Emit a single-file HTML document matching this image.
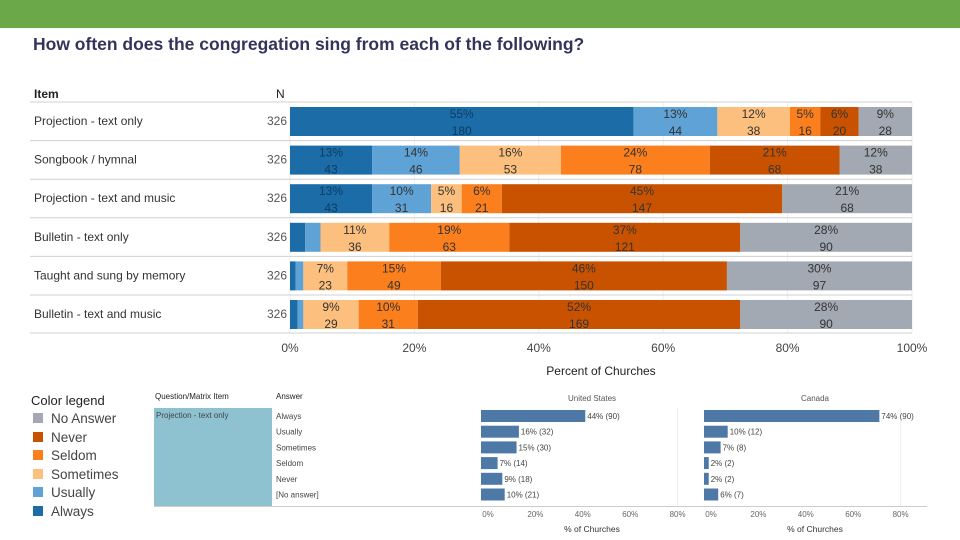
<!DOCTYPE html>
<html><head><meta charset="utf-8"><style>
body{margin:0;width:960px;height:540px;background:#fff;overflow:hidden;font-family:"Liberation Sans",sans-serif;position:relative}
.t{position:absolute;white-space:nowrap}
</style></head><body>
<div style="position:absolute;left:0;top:0;width:960px;height:28px;background:#6aa84a"></div>
<div class="t" style="left:33px;top:34px;font-size:17.5px;font-weight:bold;color:#33345a">How often does the congregation sing from each of the following?</div>
<svg id="main" width="960" height="540" style="position:absolute;left:0;top:0" font-family="Liberation Sans, sans-serif"></svg>
<div class="t" style="left:31px;top:393px;font-size:13px;color:#222">Color legend</div>
<div id="legend"></div>
<div class="t" style="left:155px;top:392px;font-size:8px;color:#222">Question/Matrix Item</div>
<div class="t" style="left:276px;top:392px;font-size:8px;color:#222">Answer</div>
<div style="position:absolute;left:154px;top:408px;width:118px;height:98px;background:#8ec2d1"></div>
<div class="t" style="left:156px;top:411px;font-size:8px;color:#444">Projection - text only</div>
<div style="position:absolute;left:154px;top:506px;width:773px;height:1px;background:#ccc"></div>
<script>
const items=["Projection - text only","Songbook / hymnal","Projection - text and music","Bulletin - text only","Taught and sung by memory","Bulletin - text and music"];
const answers=["Always","Usually","Sometimes","Seldom","Never","No Answer"];
const colors=["#1c6ca8","#5fa2d5","#fdbf7e","#fb7f1c","#c85200","#a2a9b2"];
const always=[180,43,43,8,3,4];
const usually=[44,46,31,8,4,3];
const sometimes=[38,53,16,36,23,29];
const seldom=[16,78,21,63,49,31];
const never=[20,68,147,121,150,169];
const noanswer=[28,38,68,90,97,90];
const nTotals=[326,326,326,326,326,326];
const xTicks=[0,20,40,60,80,100];
const smallAnswers=["Always","Usually","Sometimes","Seldom","Never","[No answer]"];
const usPct=[44,16,15,7,9,10];
const usN=[90,32,30,14,18,21];
const caPct=[74,10,7,2,2,6];
const caN=[90,12,8,2,2,7];
const smallTicks=[0,20,40,60,80];

const NS="http://www.w3.org/2000/svg";
const svg=document.getElementById('main');
function mk(tag,attrs,txt){const e=document.createElementNS(NS,tag);for(const k in attrs)e.setAttribute(k,attrs[k]);if(txt!=null)e.textContent=txt;svg.appendChild(e);return e;}
const x0=290,x1=912;
const xs=p=>x0+(x1-x0)*p/100;
const rowTop=i=>102+i*38.6;
// headers
let e=mk('text',{x:34,y:98,'font-size':12,'font-weight':'bold',fill:'#222'},'Item');

e=mk('text',{x:276,y:98,'font-size':12,fill:'#222'},'N');

// gridlines
xTicks.forEach(t=>{const g=mk('line',{x1:xs(t),x2:xs(t),y1:102,y2:333,stroke:'#eee'});
});
const series=[always,usually,sometimes,seldom,never,noanswer];
items.forEach((it,i)=>{
  const top=rowTop(i),cy=top+19;
  const ln=mk('line',{x1:30,x2:912,y1:top,y2:top,stroke:'#d0d0d0'});
  
  const lab=mk('text',{x:34,y:cy+4,'font-size':12,fill:'#333'},it);
  
  const nl=mk('text',{x:287,y:cy+4,'font-size':12,fill:'#555','text-anchor':'end'},nTotals[i]);
  
  let tot=series.reduce((s,a)=>s+a[i],0),cum=0;
  series.forEach((arr,k)=>{
    const v=arr[i],p0=cum/tot*100,p1=(cum+v)/tot*100;cum+=v;
    const r=mk('rect',{x:xs(p0),y:top+5,width:xs(p1)-xs(p0),height:29,fill:colors[k]});
    
    const pct=Math.round(v/tot*100);
    if(pct>=5){const mx=(xs(p0)+xs(p1))/2;
      const a=mk('text',{x:mx,y:top+16,'font-size':12,fill:k==0?'#0d3c63':'#333','text-anchor':'middle'},pct+'%');
      
      const b=mk('text',{x:mx,y:top+33,'font-size':12,fill:k==0?'#0d3c63':'#333','text-anchor':'middle'},v);
      }
  });
});
e=mk('line',{x1:30,x2:912,y1:333,y2:333,stroke:'#d0d0d0'});

xTicks.forEach(t=>{const l=mk('text',{x:xs(t),y:352,'font-size':12,fill:'#444','text-anchor':'middle'},t+'%');
});
e=mk('text',{x:601,y:375,'font-size':12,fill:'#222','text-anchor':'middle'},'Percent of Churches');

// legend
const lg=document.getElementById('legend');
const legOrder=[5,4,3,2,1,0];
legOrder.forEach((k,j)=>{
  const d=document.createElement('div');d.className='t';
  
  
  d.style.left='33px';d.style.top=(411+j*18.6)+'px';d.style.fontSize='13.5px';d.style.color='#444';
  d.innerHTML='<span style="display:inline-block;width:10px;height:10px;background:'+colors[k]+';margin-right:8px"></span>'+answers[k];
  lg.appendChild(d);
});
// small charts
const sy=i=>410+i*15.7;
smallAnswers.forEach((a,i)=>{const t=mk('text',{x:276,y:sy(i)+9,'font-size':8,fill:'#444'},a);
});
function small(ox,pct,n,title,tx){
  const sx=p=>ox+p*2.37;
  const tt=mk('text',{x:tx,y:401,'font-size':8,fill:'#555','text-anchor':'middle'},title);
  
  const gl=mk('line',{x1:sx(80)+7,x2:sx(80)+7,y1:408,y2:506,stroke:'#eee'});
  
  pct.forEach((p,i)=>{
    const r=mk('rect',{x:ox,y:sy(i),width:sx(p)-ox,height:12,fill:'#4e79a7'});
    
    const l=mk('text',{x:sx(p)+2,y:sy(i)+9,'font-size':8,fill:'#444'},p+'% ('+n[i]+')');
    
  });
  smallTicks.forEach(t=>{const l=mk('text',{x:sx(t)+7,y:517,'font-size':8,fill:'#666','text-anchor':'middle'},t+'%');
  });
  const at=mk('text',{x:tx,y:532,'font-size':8.5,fill:'#333','text-anchor':'middle'},'% of Churches');
  
}
small(481,usPct,usN,'United States',592);
small(704,caPct,caN,'Canada',815);
</script>
</body></html>
